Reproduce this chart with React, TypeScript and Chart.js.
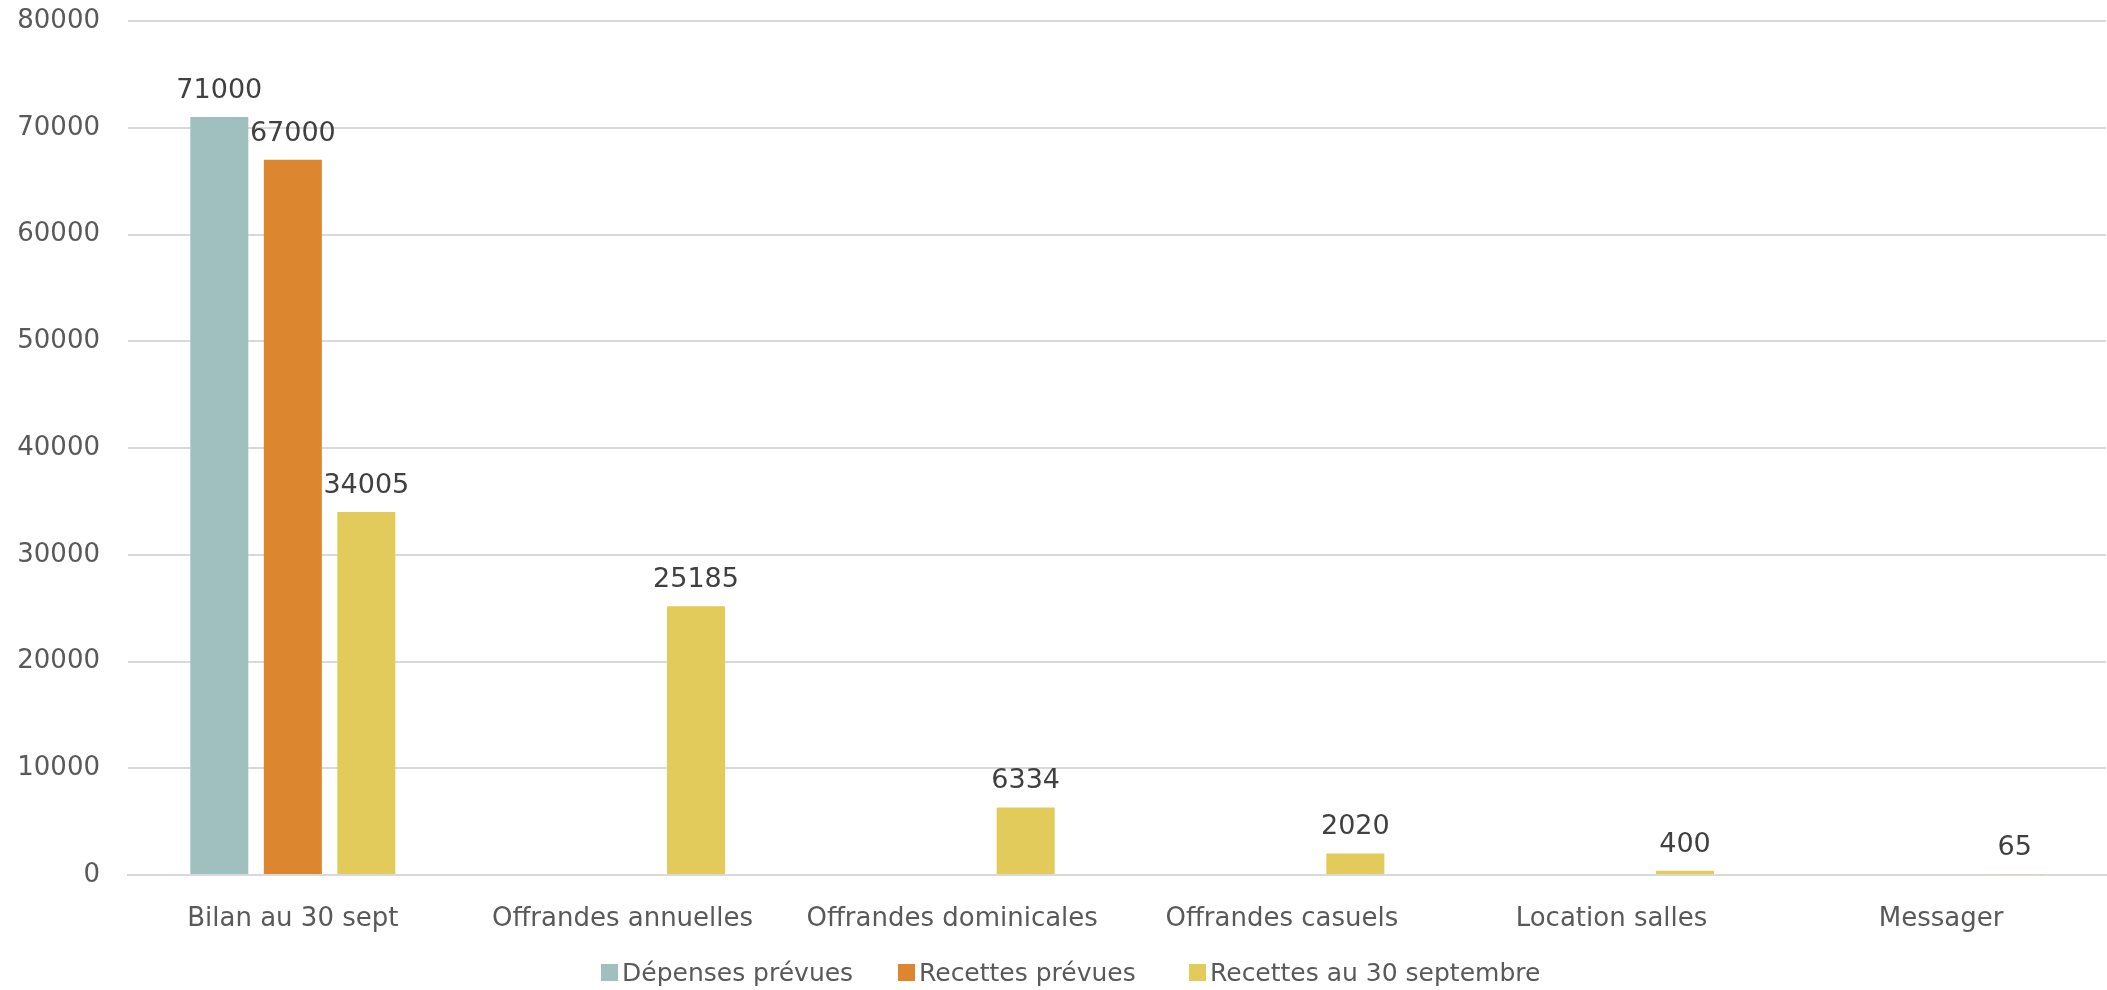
import React, { useEffect, useRef } from "react";
import { Chart, registerables } from "chart.js";

Chart.register(...registerables);

const categories = [
  "Bilan au 30 sept",
  "Offrandes annuelles",
  "Offrandes dominicales",
  "Offrandes casuels",
  "Location salles",
  "Messager",
];
const depensesPrevues = [71000, null, null, null, null, null];
const recettesPrevues = [67000, null, null, null, null, null];
const recettes30Sept = [34005, 25185, 6334, 2020, 400, 65];
const seriesNames = ["Dépenses prévues", "Recettes prévues", "Recettes au 30 septembre"];
const seriesColors = ["#9FC0BE", "#DC8630", "#E3CB5B"];
const legendLeft = [601, 898, 1189];
const yMin = 0;
const yMax = 80000;
const yStep = 10000;

const FONT = "'DejaVu Sans'";
const FONT_SIZE = 26;
const LABEL_SIZE = 27;
const LEGEND_SIZE = 25;

const dataLabels = {
  id: "dataLabels",
  afterDatasetsDraw(chart: any) {
    const ctx = chart.ctx;
    ctx.save();
    ctx.font = `${LABEL_SIZE}px ${FONT}`;
    ctx.fillStyle = "#404040";
    ctx.textAlign = "center";
    ctx.textBaseline = "alphabetic";
    chart.data.datasets.forEach((ds: any, i: number) => {
      const meta = chart.getDatasetMeta(i);
      meta.data.forEach((el: any, j: number) => {
        const v = ds.data[j];
        if (v === null || v === undefined) return;
        ctx.fillText(String(v), el.x, el.y - 19);
      });
    });
    ctx.restore();
  },
};

export default function App() {
  const ref = useRef<HTMLCanvasElement>(null);
  useEffect(() => {
    if (!ref.current) return;
    const chart = new Chart(ref.current, {
      type: "bar",
      data: {
        labels: categories,
        datasets: [depensesPrevues, recettesPrevues, recettes30Sept].map((d, i) => ({
          label: seriesNames[i],
          data: d,
          backgroundColor: seriesColors[i],
          borderWidth: 0,
          categoryPercentage: 0.669,
          barPercentage: 0.789,
        })),
      },
      options: {
        responsive: false,
        animation: false,
        layout: { padding: { left: 0, right: 1, top: 21, bottom: 0 } },
        plugins: {
          legend: { display: false },
          tooltip: { enabled: false },
        },
        scales: {
          x: {
            grid: { display: false },
            border: { display: true, color: "#d9d9d9", width: 2 },
            ticks: {
              color: "#595959",
              font: { family: FONT, size: FONT_SIZE },
              padding: 21,
              maxRotation: 0,
              autoSkip: false,
            },
            afterFit: (s: any) => {
              s.height = 115;
              s.paddingLeft = 0;
              s.paddingRight = 0;
            },
          },
          y: {
            min: yMin,
            max: yMax,
            grid: { color: "#d9d9d9", lineWidth: 2, drawTicks: false },
            border: { display: false },
            ticks: {
              stepSize: yStep,
              color: "#595959",
              font: { family: FONT, size: FONT_SIZE },
              padding: 28,
              callback: (v: any) => String(v),
            },
            afterFit: (s: any) => {
              s.width = 128;
              s.paddingTop = 0;
              s.paddingBottom = 0;
            },
          },
        },
      },
      plugins: [dataLabels],
    });
    return () => chart.destroy();
  }, []);

  return (
    <div style={{ position: "absolute", left: 0, top: 0, width: 2107, height: 990, background: "#fff" }}>
      <canvas ref={ref} width={2107} height={990} style={{ display: "block" }} />
      {seriesNames.map((n, i) => (
        <div
          key={n}
          style={{
            position: "absolute",
            left: legendLeft[i],
            top: 972 - 16,
            height: 32,
            display: "flex",
            alignItems: "center",
            fontFamily: FONT,
            fontSize: LEGEND_SIZE,
            color: "#595959",
            whiteSpace: "nowrap",
          }}
        >
          <span style={{ display: "inline-block", width: 17, height: 17, background: seriesColors[i], marginRight: 4 }} />
          <span>{n}</span>
        </div>
      ))}
    </div>
  );
}
